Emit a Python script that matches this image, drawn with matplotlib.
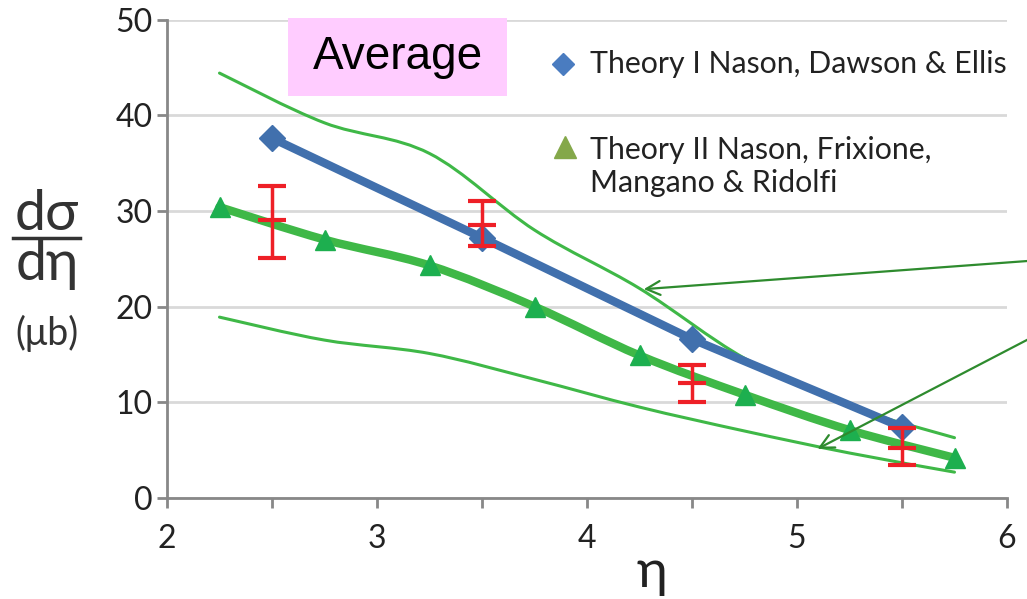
import numpy as np
import matplotlib.pyplot as plt
from matplotlib.lines import Line2D
from matplotlib.path import Path
from matplotlib.patches import PathPatch, Rectangle

plt.rcParams['font.family'] = ['Lato', 'DejaVu Sans']

# Theory I (Nason, Dawson & Ellis)
eta1 = [2.5, 3.5, 4.5, 5.5]
theory1 = [37.6, 27.2, 16.6, 7.4]

# Theory II (Nason, Frixione, Mangano & Ridolfi) with band
eta2 = [2.25, 2.75, 3.25, 3.75, 4.25, 4.75, 5.25, 5.75]
theory2 = [30.4, 27.0, 24.3, 20.0, 14.9, 10.8, 7.1, 4.2]
band_hi = [44.4, 39.2, 36.0, 28.0, 21.9, 14.6, 9.6, 6.3]
band_lo = [18.9, 16.5, 15.1, 12.4, 9.5, 7.0, 4.7, 2.7]

# measured points
eta_data = [2.5, 3.5, 4.5, 5.5]
data_val = [29.0, 28.5, 12.0, 5.2]
data_hi = [32.6, 31.0, 13.9, 7.3]
data_lo = [25.1, 26.3, 10.0, 3.4]


def smooth_line(ax, x, y, **kw):
    # Excel-like smoothed line: Catmull-Rom segments drawn as cubic beziers
    p = np.column_stack([x, y])
    verts = [p[0]]
    codes = [Path.MOVETO]
    for i in range(len(p) - 1):
        p0 = p[i - 1] if i > 0 else p[i]
        p3 = p[i + 2] if i + 2 < len(p) else p[i + 1]
        c1 = p[i] + (p[i + 1] - p0) / 6
        c2 = p[i + 1] - (p3 - p[i]) / 6
        verts += [c1, c2, p[i + 1]]
        codes += [Path.CURVE4] * 3
    ax.add_patch(PathPatch(Path(verts, codes), fill=False, capstyle='round', **kw))


fig = plt.figure(figsize=(10.27, 5.99), dpi=100)
ax = fig.add_axes([167/1027, 1-498/599, 840/1027, 478.5/599])

green = '#3fb847'
smooth_line(ax, eta2, band_hi, ec=green, lw=2.2, zorder=3)
smooth_line(ax, eta2, band_lo, ec=green, lw=2.2, zorder=3)
smooth_line(ax, eta2, theory2, ec=green, lw=6, zorder=4)
ax.plot(eta2, theory2, ls='none', marker='^', ms=15, color='#1daf4f', zorder=5)
ax.plot(eta1, theory1, color='#4170ad', lw=6, marker='D', ms=13, zorder=6)

yerr = [[v - l for v, l in zip(data_val, data_lo)], [h - v for v, h in zip(data_val, data_hi)]]
ax.errorbar(eta_data, data_val, yerr=yerr, fmt='_', ms=20, mew=3, color='#ee2027',
            ecolor='#ee2027', elinewidth=2.5, capsize=10, capthick=5, zorder=8)

# arrows pointing at the band
ax.annotate('', xy=(4.257, 21.8), xytext=(6.12, 24.8), xycoords='data',
            arrowprops=dict(arrowstyle='->', color='#2e8b2e', lw=1.6, mutation_scale=25),
            annotation_clip=False, zorder=9)
ax.annotate('', xy=(5.086, 5.0), xytext=(6.12, 16.8), xycoords='data',
            arrowprops=dict(arrowstyle='->', color='#2e8b2e', lw=1.6, mutation_scale=25),
            annotation_clip=False, zorder=9)

ax.set_xlim(2, 6)
ax.set_ylim(0, 50)
ax.set_xticks([2, 2.5, 3, 3.5, 4, 4.5, 5, 5.5, 6])
ax.set_xticklabels(['2', '', '3', '', '4', '', '5', '', '6'])
ax.set_yticks([0, 10, 20, 30, 40, 50])
ax.grid(axis='y', color='#d9d9d9', lw=2)
ax.set_axisbelow(True)
for s in ['top', 'right']:
    ax.spines[s].set_visible(False)
for s in ['left', 'bottom']:
    ax.spines[s].set_color('#888888')
    ax.spines[s].set_linewidth(2)
ax.tick_params(axis='both', color='#888888', width=2, length=7, labelsize=23, labelcolor='#222222')
ax.tick_params(axis='x', pad=12)

# "Average" label box
ax.add_patch(Rectangle((0.144, 0.840), 0.261, 0.163, transform=ax.transAxes,
                       fc='#ffccff', ec='none', clip_on=False, zorder=2))
ax.text(0.2745, 0.922, 'Average', transform=ax.transAxes, ha='center', va='center',
        fontsize=33, family='Liberation Sans', zorder=3)

# legend
ax.plot([0.4714], [0.907], transform=ax.transAxes, marker='D', ms=11, color='#4a7cc0',
        clip_on=False, zorder=10)
ax.text(0.5036, 0.907, 'Theory I Nason, Dawson & Ellis', transform=ax.transAxes,
        va='center', ha='left', fontsize=21.8, color='#222222')
ax.plot([0.4738], [0.733], transform=ax.transAxes, marker='^', ms=16, color='#84a84a',
        clip_on=False, zorder=10)
ax.text(0.5036, 0.693, 'Theory II Nason, Frixione,\nMangano & Ridolfi', transform=ax.transAxes,
        va='center', ha='left', fontsize=21.8, color='#222222', linespacing=1.2)

# y label as a fraction
fig.text(47/1027, 1-214/599, 'dσ', fontsize=40, ha='center', va='center', color='#333333')
fig.text(47/1027, 1-264/599, 'dη', fontsize=40, ha='center', va='center', color='#333333')
fig.add_artist(Line2D([13/1027, 80/1027], [1-238/599, 1-238/599], color='#333333', lw=2.5))
fig.text(47/1027, 1-333/599, '(μb)', fontsize=27, ha='center', va='center', color='#333333')
fig.text(652/1027, 1-572/599, 'η', fontsize=38, ha='center', va='center', color='#222222')

fig.savefig('out.png', dpi=100)
